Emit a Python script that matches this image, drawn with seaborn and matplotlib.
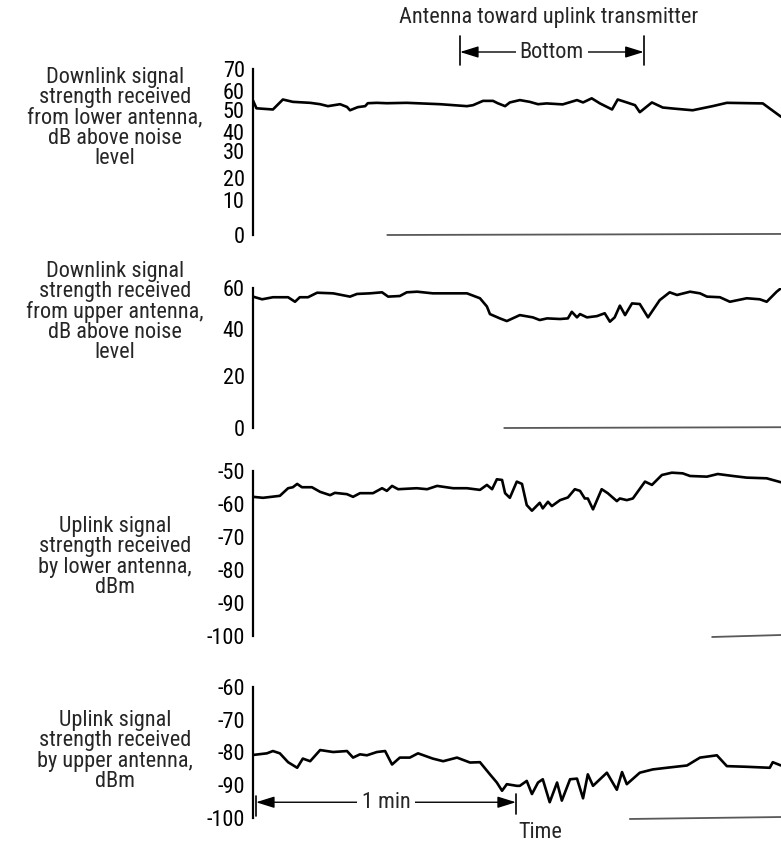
import numpy as np
import pandas as pd
import matplotlib
matplotlib.use("Agg")
import matplotlib.pyplot as plt
import matplotlib.transforms as mtransforms
from matplotlib import font_manager
import seaborn as sns

### DATA ###
# time in seconds from start of record, signal levels
t_down_lower = [0, 0.8, 4.6, 6.9, 9.2, 13.2, 15.5, 17.3, 20.1, 21.7, 22.4, 24.2, 25.9, 26.5, 28.6, 30.9,
                35.5, 43.2, 49.4, 50.8, 53.1, 55.4, 56.5, 58.2, 59.3, 61.6, 63.9, 65.8, 67.8, 71.5, 74.8,
                76.2, 78.2, 80.1, 82.9, 84.2, 86.3, 88.2, 89.3, 92.1, 94.6, 96.9, 101.5, 106.1, 109.4,
                117.7, 119.3, 121.9]
db_down_lower = [55, 51, 50.4, 55.5, 54.3, 53.8, 53.1, 52.1, 53.1, 51.7, 50, 51.6, 52.1, 53.6, 53.8, 53.6,
                 53.8, 53.1, 52.1, 52.6, 54.8, 54.8, 53.6, 52.1, 54.0, 55.2, 54.3, 53.1, 53.5, 53.0, 55.2,
                 54.0, 56.1, 53.5, 50.4, 55.5, 54.0, 52.6, 49.1, 54.0, 51.4, 50.9, 50, 52.1, 53.8,
                 53.5, 50.9, 47.0]

t_down_upper = [0, 2.1, 4.6, 8.1, 9.7, 10.8, 12.7, 14.8, 18.5, 22.4, 24.0, 27.0, 29.8, 31.2, 33.9, 35.5,
                37.9, 41.5, 49.4, 52.4, 54.0, 54.7, 57.0, 58.6, 61.6, 64.6, 66.2, 67.9, 70.9, 72.7, 73.6,
                74.8, 75.5, 77.1, 79.4, 81.2, 82.4, 83.5, 84.7, 85.9, 87.5, 89.3, 91.2, 93.9, 96.2, 97.9,
                100.9, 103.2, 104.8, 107.8, 110.1, 114.0, 117.0, 118.6, 120.9, 121.9]
db_down_upper = [55.8, 54.5, 55.5, 55.5, 53.3, 55.5, 55.5, 57.7, 57.4, 55.8, 57.1, 57.4, 57.9, 55.8, 56.1, 57.9,
                 58.2, 57.4, 57.4, 55.0, 51.0, 47.3, 45.2, 43.9, 46.8, 45.7, 44.4, 45.2, 44.9, 45.2, 48.4,
                 45.7, 47.3, 45.7, 46.3, 47.7, 43.6, 45.7, 51.4, 46.8, 52.5, 52.2, 45.7, 54.1, 57.9, 56.6,
                 58.2, 57.4, 55.8, 55.5, 53.3, 55.0, 54.5, 53.3, 58.2, 59.9]

t_up_lower = [0, 2.3, 6.2, 8.1, 9.2, 10.2, 11.3, 13.6, 15.5, 17.8, 18.9, 21.7, 23.1, 24.7, 27.7, 29.8,
              30.9, 32.1, 33.5, 37.8, 40.2, 42.5, 46.2, 49.4, 52.4, 54.0, 55.2, 56.3, 57.5, 58.2, 59.3,
              60.9, 62.1, 63.2, 64.4, 66.2, 66.9, 68.1, 69.0, 70.9, 72.7, 74.3, 75.5, 76.6, 77.3, 78.5,
              80.5, 81.9, 84.0, 84.7, 86.3, 87.7, 90.5, 92.1, 94.4, 96.7, 99.2, 100.9, 104.8, 107.3,
              110.8, 114.0, 118.6, 121.9]
dbm_up_lower = [-57.9, -58.2, -57.6, -55.3, -55.0, -54.0, -55.0, -55.0, -56.4, -57.4, -56.7, -57.1, -57.9,
                -56.8, -56.8, -55.3, -56.1, -54.6, -55.6, -55.3, -55.6, -54.6, -55.3, -55.3, -55.8, -54.3,
                -55.6, -52.6, -52.8, -56.8, -58.2, -53.3, -54.0, -60.4, -62.1, -59.7, -61.4, -59.4, -60.7,
                -58.9, -58.1, -55.6, -56.1, -58.4, -58.4, -61.7, -55.6, -56.8, -59.2, -58.4, -58.9, -58.4,
                -53.3, -54.3, -51.3, -50.6, -50.8, -51.6, -51.8, -51.0, -51.6, -52.1, -52.3, -53.5]

t_up_upper = [0, 3.2, 4.6, 6.2, 8.1, 10.2, 11.5, 13.2, 15.5, 18.5, 21.7, 23.1, 24.7, 26.3, 28.6, 30.5,
              32.1, 33.9, 36.2, 38.1, 41.5, 43.9, 47.1, 50.1, 52.4, 54.7, 56.3, 57.5, 58.6, 60.9, 61.6,
              63.2, 64.4, 65.8, 66.9, 68.5, 70.2, 71.3, 73.2, 74.8, 76.2, 77.3, 78.5, 81.7, 84.0, 85.2,
              86.3, 89.3, 92.3, 95.5, 100.2, 103.2, 107.1, 109.4, 114.0, 119.3, 120.0, 121.9]
dbm_up_upper = [-80.8, -80.3, -79.6, -80.3, -83.0, -84.7, -81.9, -82.7, -79.3, -79.9, -79.6, -81.6, -80.6,
                -80.9, -79.9, -79.6, -83.7, -81.6, -81.6, -80.3, -81.9, -82.7, -81.6, -83.1, -83.0, -86.7,
                -89.2, -91.7, -89.7, -90.2, -90.2, -88.7, -92.7, -89.2, -88.2, -95.2, -89.2, -94.7, -88.2,
                -88.0, -94.0, -86.7, -90.2, -86.2, -91.4, -86.0, -89.7, -86.2, -85.2, -84.7, -84.0, -81.6,
                -80.9, -84.2, -84.4, -84.7, -83.0, -84.0]

# where the recorder zero trace begins on each channel (s)
zero_start = [31, 58, 106, 87]

panel_labels = ["Downlink signal\nstrength received\nfrom lower antenna,\ndB above noise\nlevel",
                "Downlink signal\nstrength received\nfrom upper antenna,\ndB above noise\nlevel",
                "Uplink signal\nstrength received\nby lower antenna,\ndBm",
                "Uplink signal\nstrength received\nby upper antenna,\ndBm"]
panel_ticks = [[0, 10, 20, 30, 40, 50, 60, 70], [0, 20, 40, 60],
               [-100, -90, -80, -70, -60, -50], [-100, -90, -80, -70, -60]]
# printed (non-uniform) scale of the two downlink meters
print_scale = {0: [0, 14.8, 24.1, 35.4, 43.5, 52.6, 60.85, 70], 1: [0, 22.4, 42.4, 60]}

bottom_span = [47.8, 90.2]   # antenna toward transmitter, s
one_min = [0.7, 60.7]
t_end = 121.9

### STYLE ###
sns.set_style("white")
names = {f.name for f in font_manager.fontManager.ttflist}
fam = "Liberation Sans"
for cand in ["Liberation Sans Narrow", "Roboto Condensed", "Open Sans Condensed"]:
    if cand in names:
        fam = cand
        break
plt.rcParams["font.family"] = [fam, "DejaVu Sans"]
plt.rcParams["axes.unicode_minus"] = False
FS = 16

fig = plt.figure(figsize=(7.81, 8.44), dpi=100)
W, H = 781, 844
# axes rectangles in pixels: spine x, top y, bottom y
boxes = [(253, 69, 235), (253, 288, 428), (253, 470.7, 636), (253, 686.7, 818)]
series = [(t_down_lower, db_down_lower), (t_down_upper, db_down_upper),
          (t_up_lower, dbm_up_lower), (t_up_upper, dbm_up_upper)]
label_y = [118, 312, 557, 751]

axes = []
for i, (x0, ytop, ybot) in enumerate(boxes):
    ax = fig.add_axes([x0 / W, 1 - ybot / H, (W - x0) / W, (ybot - ytop) / H])
    ticks = panel_ticks[i]
    if i in print_scale:
        marks = print_scale[i]
        ax.set_yscale("function", functions=(lambda v, a=ticks, b=marks: np.interp(v, a, b),
                                             lambda u, a=ticks, b=marks: np.interp(u, b, a)))
    df = pd.DataFrame({"t": series[i][0], "v": series[i][1]})
    sns.lineplot(data=df, x="t", y="v", ax=ax, color="black", lw=1.9, estimator=None, sort=False,
                 solid_joinstyle="round", solid_capstyle="round")
    lo = ticks[0]
    ax.plot([zero_start[i], t_end], [lo - 0.3, lo + 0.3], color="0.35", lw=1.3, clip_on=False)
    ax.set_xlim(0, t_end)
    ax.set_ylim(ticks[0], ticks[-1])
    ax.set_yticks(ticks)
    ax.set_yticklabels([str(v) for v in ticks])
    ax.yaxis.set_minor_locator(matplotlib.ticker.NullLocator())
    ax.set_xticks([])
    ax.set_xlabel("")
    ax.set_ylabel("")
    for s in ["top", "right", "bottom"]:
        ax.spines[s].set_visible(False)
    ax.spines["left"].set_linewidth(1.6)
    ax.spines["left"].set_color("black")
    ax.tick_params(axis="y", direction="in", length=16, width=1.5, pad=6,
                   labelsize=FS, colors="black")
    ax.patch.set_alpha(0)
    fig.text(115 / W, 1 - label_y[i] / H, panel_labels[i], ha="center", va="center",
             multialignment="center", fontsize=FS, linespacing=0.95)
    axes.append(ax)

### ANNOTATIONS ###
fig.text(549 / W, 1 - 17 / H, "Antenna toward uplink transmitter", ha="center", va="center", fontsize=FS)
ax1 = axes[0]
tr = mtransforms.blended_transform_factory(ax1.transData, fig.transFigure)
ya = 1 - 52 / H
ax1.annotate("", xy=(bottom_span[1], ya), xytext=(bottom_span[0], ya), xycoords=tr, textcoords=tr,
             arrowprops=dict(arrowstyle="<|-|>,head_length=0.8,head_width=0.25", mutation_scale=14,
                             color="black", lw=1, shrinkA=0, shrinkB=0), annotation_clip=False)
for xb in bottom_span:
    ax1.plot([xb, xb], [1 - 36 / H, 1 - 65 / H], transform=tr, color="black", lw=1.2, clip_on=False)
ax1.text(sum(bottom_span) / 2, ya, "Bottom", transform=tr, ha="center", va="center", fontsize=FS,
         bbox=dict(facecolor="white", edgecolor="none", pad=3))

ax4 = axes[3]
ym = -95.2
ax4.annotate("", xy=(one_min[1], ym), xytext=(one_min[0], ym),
             arrowprops=dict(arrowstyle="<|-|>,head_length=0.8,head_width=0.25", mutation_scale=14,
                             color="black", lw=1, shrinkA=0, shrinkB=0), annotation_clip=False)
ax4.plot([one_min[0], one_min[0]], [-93.4, -99.5], color="black", lw=1.2, clip_on=False)
ax4.plot([one_min[1], one_min[1]], [-92.8, -98.7], color="black", lw=1.2, clip_on=False)
ax4.text(sum(one_min) / 2, ym, "1 min", ha="center", va="center", fontsize=FS,
         bbox=dict(facecolor="white", edgecolor="none", pad=3))
fig.text(540 / W, 1 - 833 / H, "Time", ha="center", va="center", fontsize=FS)

fig.savefig("out.png", dpi=100)
